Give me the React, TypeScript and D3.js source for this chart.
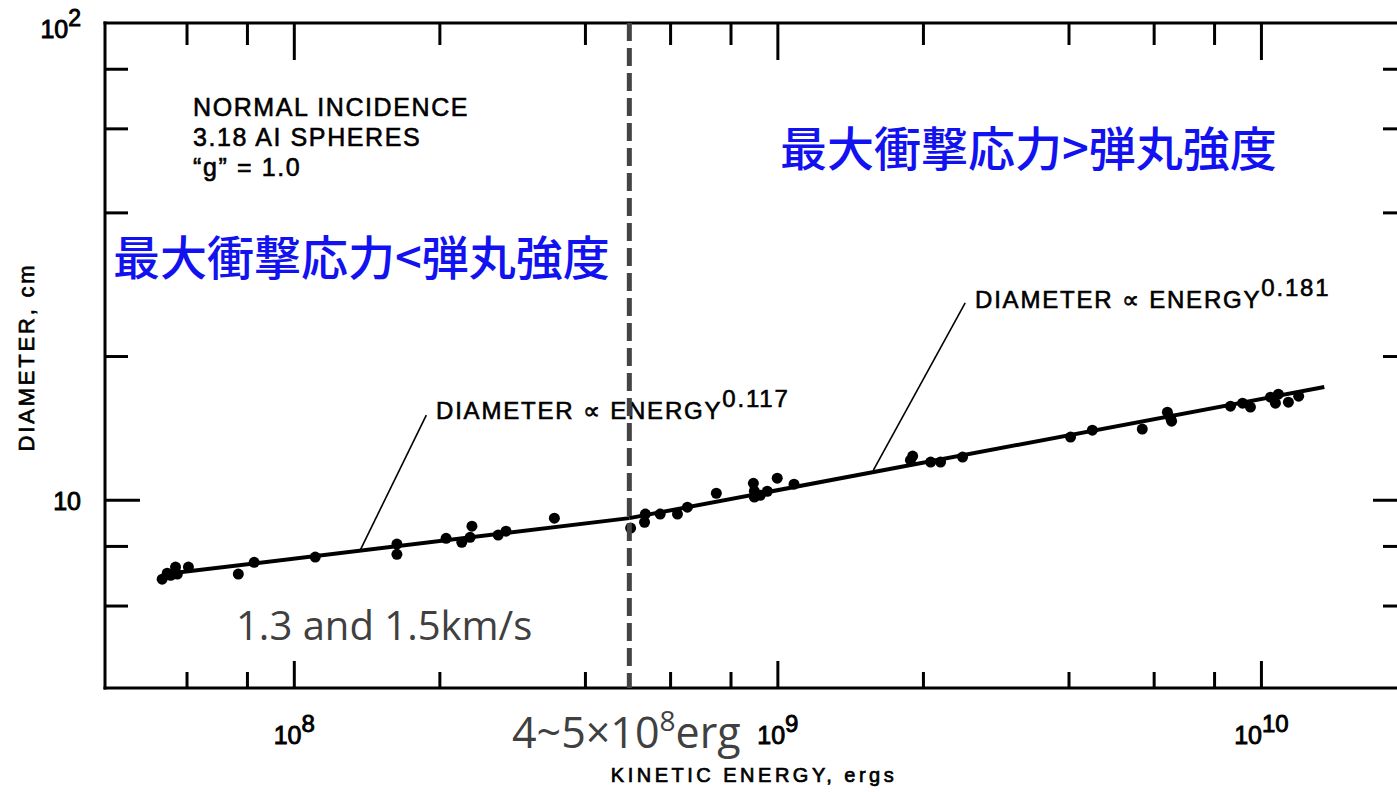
import React from "react";
import * as d3 from "d3";

// ---- data ----
const energyErgs = [
  5.33e7, 5.46e7, 5.55e7, 5.68e7, 5.73e7, 6.04e7, 7.66e7, 8.26e7, 1.105e8,
  1.63e8, 1.63e8, 2.06e8, 2.22e8, 2.31e8, 2.33e8, 2.64e8, 2.74e8, 3.45e8,
  4.96e8, 5.3e8, 5.32e8, 5.71e8, 6.2e8, 6.5e8, 7.46e8, 8.9e8, 8.94e8, 8.94e8,
  9.2e8, 9.51e8, 9.97e8, 1.08e9, 1.88e9, 1.9e9, 2.07e9, 2.17e9, 2.41e9,
  4.03e9, 4.47e9, 5.67e9, 6.39e9, 6.49e9, 6.52e9, 8.63e9, 9.14e9, 9.49e9,
  1.044e10, 1.084e10, 1.069e10, 1.137e10, 1.194e10,
];
const diameterCm = [
  6.83, 7.03, 6.96, 7.24, 7.0, 7.24, 7.0, 7.41, 7.6,
  8.09, 7.7, 8.32, 8.16, 8.36, 8.82, 8.45, 8.61, 9.17,
  8.74, 8.99, 9.35, 9.35, 9.35, 9.67, 10.34, 10.85, 10.44, 10.15,
  10.24, 10.44, 11.12, 10.8, 12.13, 12.37, 12.02, 12.02, 12.31,
  13.56, 14.02, 14.09, 15.29, 14.85, 14.64, 15.74, 15.97, 15.67,
  16.44, 16.68, 15.97, 16.05, 16.52,
];

const fitLowEnergy = [5.41e7, 4.93e8];
const fitLowDiameter = [7.0, 9.17];
const fitHighEnergy = [4.93e8, 1.349e10];
const fitHighDiameter = [9.17, 17.26];

const transitionEnergy = 4.93e8;

const xMajorTicks = [1e8, 1e9, 1e10];
const xMajorLabels = ["8", "9", "10"];
const xMinorTicks = [6e7, 8e7, 2e8, 4e8, 6e8, 8e8, 2e9, 4e9, 6e9, 8e9];
const yMajorTicks = [10];
const yMinorTicks = [6, 8, 20, 40, 60, 80];

const leaderLowEnergy = [1.875e8, 1.369e8];
const leaderLowDiameter = [15.07, 7.86];
const leaderHighEnergy = [2.44e9, 1.576e9];
const leaderHighDiameter = [25.9, 11.56];

const W = 1397;
const H = 792;
const LEFT = 105;
const RIGHT = 1407;
const TOP = 23;
const BOTTOM = 688;

const LAT = "'Liberation Sans', Arial, Helvetica, sans-serif";
const CJK = "'Noto Sans CJK JP', 'Noto Sans CJK SC', sans-serif";
const GRAY = "'Open Sans', 'Noto Sans', sans-serif";
const BLUE = "#1212f0";

export default function App() {
  const x = d3.scaleLog().domain([4.06e7, 2e10]).range([LEFT, RIGHT]);
  const y = d3.scaleLog().domain([4.04, 100]).range([BOTTOM, TOP]);

  const line = d3
    .line<[number, number]>()
    .x((d) => x(d[0]))
    .y((d) => y(d[1]));

  const lowPts: [number, number][] = fitLowEnergy.map((e, i) => [e, fitLowDiameter[i]]);
  const highPts: [number, number][] = fitHighEnergy.map((e, i) => [e, fitHighDiameter[i]]);
  const lead1: [number, number][] = leaderLowEnergy.map((e, i) => [e, leaderLowDiameter[i]]);
  const lead2: [number, number][] = leaderHighEnergy.map((e, i) => [e, leaderHighDiameter[i]]);

  const tickW = 3;

  return (
    <svg
      width={W}
      height={H}
      style={{ position: "fixed", left: 0, top: 0, background: "#fff" }}
    >
      <rect x={0} y={0} width={W} height={H} fill="#fff" />

      {/* frame */}
      <g stroke="#000" strokeWidth={3} fill="none" strokeLinecap="square">
        <line x1={LEFT} y1={TOP} x2={RIGHT} y2={TOP} />
        <line x1={LEFT} y1={BOTTOM} x2={RIGHT} y2={BOTTOM} />
        <line x1={LEFT} y1={TOP} x2={LEFT} y2={BOTTOM} />
        <line x1={RIGHT} y1={TOP} x2={RIGHT} y2={BOTTOM} />
      </g>

      {/* x ticks */}
      <g stroke="#000" strokeWidth={tickW}>
        {xMinorTicks.map((t) => (
          <g key={"xm" + t}>
            <line x1={x(t)} x2={x(t)} y1={BOTTOM} y2={BOTTOM - 16} />
            <line x1={x(t)} x2={x(t)} y1={TOP} y2={TOP + 22} />
          </g>
        ))}
        {xMajorTicks.map((t) => (
          <g key={"xM" + t}>
            <line x1={x(t)} x2={x(t)} y1={BOTTOM} y2={BOTTOM - 27} />
            <line x1={x(t)} x2={x(t)} y1={TOP} y2={TOP + 37} />
          </g>
        ))}
      </g>

      {/* y ticks */}
      <g stroke="#000" strokeWidth={tickW}>
        {yMinorTicks.map((t) => (
          <g key={"ym" + t}>
            <line x1={LEFT} x2={LEFT + 23} y1={y(t)} y2={y(t)} />
            <line x1={RIGHT} x2={RIGHT - 24} y1={y(t)} y2={y(t)} />
          </g>
        ))}
        {yMajorTicks.map((t) => (
          <g key={"yM" + t}>
            <line x1={LEFT} x2={LEFT + 35} y1={y(t)} y2={y(t)} />
            <line x1={RIGHT} x2={RIGHT - 34} y1={y(t)} y2={y(t)} />
          </g>
        ))}
      </g>

      {/* tick labels */}
      <g fontFamily={LAT} fontSize={25} fill="#000" stroke="#000" strokeWidth={0.9}>
        {xMajorTicks.map((t, i) => (
          <text key={"xl" + t} x={x(t)} y={744} textAnchor="middle">
            10
            <tspan dy={-12} fontSize={24}>
              {xMajorLabels[i]}
            </tspan>
          </text>
        ))}
        <text x={81} y={38} textAnchor="end">
          10
          <tspan dy={-12} fontSize={23}>
            2
          </tspan>
        </text>
        <text x={81} y={y(10) + 10} textAnchor="end">
          10
        </text>
      </g>

      {/* axis titles */}
      <text
        x={754}
        y={782}
        textAnchor="middle"
        fontFamily={LAT}
        fontSize={20}
        letterSpacing={3.5}
        stroke="#000"
        strokeWidth={0.7}
      >
        KINETIC ENERGY, ergs
      </text>
      <text
        transform={`translate(34,357) rotate(-90)`}
        textAnchor="middle"
        fontFamily={LAT}
        fontSize={22}
        letterSpacing={2.8}
        stroke="#000"
        strokeWidth={0.7}
      >
        DIAMETER, cm
      </text>

      {/* conditions */}
      <g fontFamily={LAT} fontSize={25} letterSpacing={1.6} fill="#000" stroke="#000" strokeWidth={0.6}>
        <text x={193} y={116}>NORMAL INCIDENCE</text>
        <text x={193} y={146}>3.18 AI SPHERES</text>
        <text x={193} y={176}>{"\u201Cg\u201D = 1.0"}</text>
      </g>

      {/* fit lines */}
      <path d={line(lowPts) || ""} stroke="#000" strokeWidth={4} fill="none" />
      <path d={line(highPts) || ""} stroke="#000" strokeWidth={4} fill="none" />

      {/* data points */}
      <g fill="#000">
        {energyErgs.map((e, i) => (
          <circle key={i} cx={x(e)} cy={y(diameterCm[i])} r={5.5} />
        ))}
      </g>

      {/* leaders */}
      <path d={line(lead1) || ""} stroke="#000" strokeWidth={1.6} fill="none" />
      <path d={line(lead2) || ""} stroke="#000" strokeWidth={1.6} fill="none" />

      {/* fit annotations */}
      <g fontFamily={LAT} fontSize={24} letterSpacing={1.8} fill="#000" stroke="#000" strokeWidth={0.6}>
        <text x={436} y={419}>
          {"DIAMETER \u221D ENERGY"}
          <tspan dy={-12} fontSize={24}>
            0.117
          </tspan>
        </text>
        <text x={975} y={308}>
          {"DIAMETER \u221D ENERGY"}
          <tspan dy={-12} fontSize={24}>
            0.181
          </tspan>
        </text>
      </g>

      {/* transition dashed line */}
      <line
        x1={x(transitionEnergy)}
        x2={x(transitionEnergy)}
        y1={TOP}
        y2={BOTTOM}
        stroke="#444"
        strokeWidth={5}
        strokeDasharray="18,7"
      />

      {/* blue regime labels */}
      <g fontFamily={CJK} fontSize={47} fontWeight={500} fill={BLUE}>
        <text x={113} y={275}>最大衝撃応力&lt;弾丸強度</text>
        <text x={780} y={166}>最大衝撃応力&gt;弾丸強度</text>
      </g>

      {/* gray annotations */}
      <g fontFamily={GRAY} fill="#404040">
        <text x={236} y={640} fontSize={40}>
          1.3 and 1.5km/s
        </text>
        <text x={512} y={748} fontSize={43}>
          4~5×10
          <tspan dy={-17} fontSize={28}>
            8
          </tspan>
          <tspan dy={17}>erg</tspan>
        </text>
      </g>
    </svg>
  );
}
